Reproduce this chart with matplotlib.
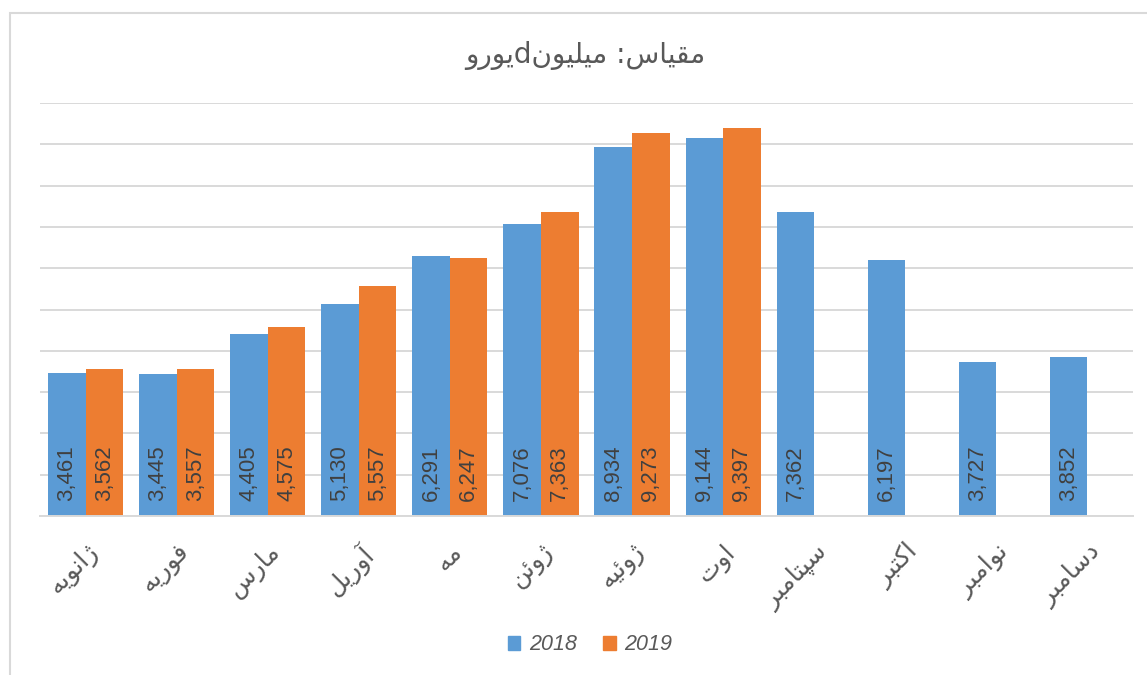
import matplotlib
matplotlib.use('Agg')
import matplotlib.pyplot as plt
from matplotlib.patches import Rectangle, Patch
import numpy as np

months = ['ژانویه', 'فوریه', 'مارس', 'آوریل', 'مه', 'ژوئن',
          'ژوئیه', 'اوت', 'سپتامبر', 'اکتبر', 'نوامبر', 'دسامبر']
sales_2018 = [3461, 3445, 4405, 5130, 6291, 7076, 8934, 9144, 7362, 6197, 3727, 3852]
sales_2019 = [3562, 3557, 4575, 5557, 6247, 7363, 9273, 9397, None, None, None, None]
series_names = ['2018', '2019']
title = 'مقیاس: میلیونdیورو'

# matplotlib has no arabic shaping, so pick presentation forms by hand
# (isolated, final, initial, medial)
FORMS = {
    'ا': ('\uFE8D', '\uFE8E', None, None),
    'آ': ('\uFE81', '\uFE82', None, None),
    'د': ('\uFEA9', '\uFEAA', None, None),
    'ر': ('\uFEAD', '\uFEAE', None, None),
    'ژ': ('\uFB8A', '\uFB8B', None, None),
    'و': ('\uFEED', '\uFEEE', None, None),
    'ب': ('\uFE8F', '\uFE90', '\uFE91', '\uFE92'),
    'پ': ('\uFB56', '\uFB57', '\uFB58', '\uFB59'),
    'ت': ('\uFE95', '\uFE96', '\uFE97', '\uFE98'),
    'س': ('\uFEB1', '\uFEB2', '\uFEB3', '\uFEB4'),
    'ف': ('\uFED1', '\uFED2', '\uFED3', '\uFED4'),
    'ق': ('\uFED5', '\uFED6', '\uFED7', '\uFED8'),
    'ک': ('\uFB8E', '\uFB8F', '\uFB90', '\uFB91'),
    'ل': ('\uFEDD', '\uFEDE', '\uFEDF', '\uFEE0'),
    'م': ('\uFEE1', '\uFEE2', '\uFEE3', '\uFEE4'),
    'ن': ('\uFEE5', '\uFEE6', '\uFEE7', '\uFEE8'),
    'ه': ('\uFEE9', '\uFEEA', '\uFEEB', '\uFEEC'),
    'ی': ('\uFBFC', '\uFBFD', '\uFBFE', '\uFBFF'),
    'ئ': ('\uFE89', '\uFE8A', '\uFE8B', '\uFE8C'),
}


def dual(c):
    return c in FORMS and FORMS[c][2] is not None


def shape(text):
    out = []
    for i, c in enumerate(text):
        if c not in FORMS:
            out.append(c)
            continue
        prev = text[i - 1] if i > 0 else ''
        nxt = text[i + 1] if i + 1 < len(text) else ''
        to_prev = dual(prev)
        to_next = dual(c) and nxt in FORMS
        iso, fin, ini, med = FORMS[c]
        if to_prev and to_next:
            out.append(med)
        elif to_prev:
            out.append(fin)
        elif to_next:
            out.append(ini)
        else:
            out.append(iso)
    return ''.join(out)[::-1]


blue = '#5B9BD5'
orange = '#ED7D31'
grid = '#D9D9D9'
text_gray = '#595959'
label_gray = '#404040'

fig = plt.figure(figsize=(11.47, 6.75), dpi=100)
fig.patches.append(Rectangle((10 / 1147, -0.1), 1.2, 1.1 - 13 / 675,
                             transform=fig.transFigure, fill=False,
                             edgecolor=grid, lw=1.5))

ax = fig.add_axes([40 / 1147, 1 - 516 / 675, 1093 / 1147, 413 / 675])

x = np.arange(len(months))
w = 0.413
v18 = np.array(sales_2018, dtype=float)
v19 = np.array([np.nan if v is None else v for v in sales_2019])

b1 = ax.bar(x - w / 2, v18, w, color=blue, zorder=2)
b2 = ax.bar(x + w / 2, v19, w, color=orange, zorder=2)

for bars, vals in ((b1, v18), (b2, v19)):
    for rect, v in zip(bars, vals):
        if np.isnan(v):
            continue
        ax.annotate(f'{int(v):,}', (rect.get_x() + rect.get_width() / 2, 0),
                    xytext=(0, 11), textcoords='offset points',
                    rotation=90, ha='center', va='bottom',
                    fontsize=16, family='Liberation Sans', color=label_gray)

ax.set_xlim(-0.5, len(months) - 0.5)
ax.set_ylim(0, 10000)
ax.set_yticks(np.arange(0, 10001, 1000))
ax.yaxis.grid(True, color=grid, lw=1.4, zorder=0)
ax.tick_params(axis='y', left=False, labelleft=False)
ax.tick_params(axis='x', length=0, pad=17)
ax.set_xticks(x)
ax.set_xticklabels([shape(m) for m in months], rotation=45, ha='right',
                   rotation_mode='anchor', fontsize=18, family='DejaVu Sans',
                   color=text_gray)
for s in ('top', 'left', 'right'):
    ax.spines[s].set_visible(False)
ax.spines['bottom'].set_color(grid)
ax.spines['bottom'].set_linewidth(1.4)

fig.text(585 / 1147, 1 - 55 / 675, shape(title), ha='center', va='center',
         fontsize=20, family='DejaVu Sans', color=text_gray)

handles = [Patch(color=blue), Patch(color=orange)]
fig.legend(handles, series_names, loc='center', ncol=2, frameon=False,
           bbox_to_anchor=(590 / 1147, 1 - 645 / 675),
           prop={'family': 'Liberation Sans', 'style': 'italic', 'size': 15.5},
           handlelength=0.6, handleheight=0.6, handletextpad=0.4,
           columnspacing=1.2, labelcolor=text_gray)

fig.savefig('out.png', dpi=100)
